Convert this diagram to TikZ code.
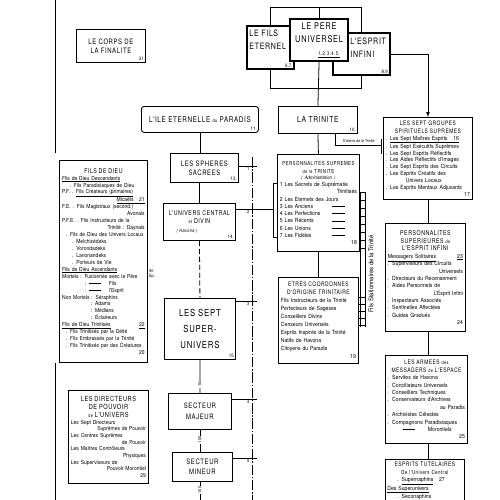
\documentclass[tikz,border=0pt]{standalone}
\usepackage{fontspec}
\setmainfont{TeX Gyre Heros}[FakeStretch=0.9]
\newfontfamily\lettre{TeX Gyre Heros}[FakeStretch=0.8,LetterSpace=8]
\newcommand\toright{\hspace*{\fill}}
\newcommand\jour[1]{\makebox[21mm][l]{#1}\rule[0.6ex]{5mm}{0.4pt}}
\newcommand\titre[2][7.5]{{\centering\lettre\fontsize{#1}{9}\selectfont #2\par}}
\newcommand\petit[1]{{\fontsize{5.5}{6}\selectfont #1}}
\begin{document}
\begin{tikzpicture}[
		x=0.4mm, y=-0.4mm,
		line width=0.9pt,
		frame/.style={draw, line width=1pt, fill=white, anchor=north west},
		box/.style={frame, align=center, inner sep=2pt, font=\lettre\fontsize{9}{11}\selectfont},
		heavy/.style={frame, line width=2.4pt},
		lst/.style={frame, align=left, inner sep=2.5pt, font=\fontsize{6.6}{8.4}\selectfont},
		num/.style={anchor=south east, inner sep=2pt, font=\fontsize{5.5}{6}\selectfont},
		tick/.style={inner sep=0.8pt, font=\fontsize{5}{6}\selectfont},
		rail/.style={line width=0.8pt, dash pattern=on 12pt off 2pt on 1.5pt off 2pt}
		]
		\path[use as bounding box, fill=white] (0,0) rectangle (500,500);
		\clip (0,0) rectangle (500,500);

		\node[box, minimum width=27.6mm, minimum height=13.2mm, font=\lettre\fontsize{8.5}{10.5}\selectfont] (corps) at (76,29) {LE CORPS DE\\LA FINALITE};
		\node[num] (corpsn) at (corps.south east) {31};

		\node[frame, line width=1.8pt, minimum width=18.8mm, minimum height=17.2mm] (fils) at (246,25) {};
		\node[anchor=north west, align=left, inner sep=0pt, font=\lettre\fontsize{10}{14}\selectfont] (filst) at (249,30) {LE FILS\\ETERNEL};
		\node[num] (filsn) at (fils.south east) {6.7.};
		\node[heavy, minimum width=22.8mm, minimum height=16.8mm] (esprit) at (332,32) {};
		\node[anchor=north west, align=left, inner sep=0pt, font=\lettre\fontsize{10}{14}\selectfont] (espritt) at (350,38) {L'ESPRIT\\INFINI};
		\node[num] (espritn) at (esprit.south east) {8.9.};
		\node[heavy, align=center, inner sep=2pt, minimum width=23.2mm, minimum height=16.8mm, font=\lettre\fontsize{10.5}{15}\selectfont] (pere) at (289,18) {LE PERE\\UNIVERSEL\\{\fontsize{6}{6}\selectfont\hspace*{8mm}\underline{1.2.3.4.5.}}};

		\node[box, rounded corners=3pt, minimum width=46.8mm, minimum height=10.4mm] (ile) at (141,106) {L'ILE ETERNELLE \petit{du} PARADIS};
		\node[num] (ilen) at (ile.south east) {11.};
		\node[box, minimum width=31.6mm, minimum height=10.8mm, font=\lettre\fontsize{9.5}{11}\selectfont] (trinite) at (278,106) {LA TRINITE};
		\node[num] (triniten) at (trinite.south east) {10.};
		\node[box, minimum width=27.2mm, minimum height=11.6mm, font=\lettre\fontsize{8.5}{10}\selectfont] (spheres) at (170,153) {LES SPHERES\\SACREES};
		\node[num] (spheresn) at (spheres.south east) {13.};
		\node[box, minimum width=28.8mm, minimum height=14.8mm, font=\lettre\fontsize{7.5}{10}\selectfont] (central) at (163,203) {L'UNIVERS CENTRAL\\\petit{et} DIVIN\\{\fontsize{5.5}{6}\selectfont\itshape ( Havona )\hspace*{10mm}}};
		\node[num] (centraln) at (central.south east) {14.};
		\node[box, minimum width=28.4mm, minimum height=24.4mm, font=\lettre\fontsize{11}{18}\selectfont] (superu) at (164,298) {LES SEPT\\SUPER-\\UNIVERS};
		\node[num] (superun) at (superu.south east) {15};
		\node[box, minimum width=25.2mm, minimum height=14.4mm, font=\lettre\fontsize{8.5}{13}\selectfont] (majeur) at (168,393) {SECTEUR\\MAJEUR};
		\node[box, minimum width=24mm, minimum height=11.6mm, font=\lettre\fontsize{8.5}{12}\selectfont] (mineur) at (172,452) {SECTEUR\\MINEUR};

		\node[lst, minimum width=35.2mm, minimum height=80.8mm, text width=33mm, font=\fontsize{6.3}{7.9}\selectfont] (filsdieu) at (59,160) {
			\titre{FILS DE DIEU}
			\underline{Fils de Dieu Descendants}\\
			\hspace*{3mm}. Fils Paradisiaques de Dieu\\
			P.F. . \underline{Fils Créateurs (primaires)}\\
			\toright\underline{Micaëls\quad 21}\\
			F.E. . Fils Magistraux (second.)\\
			\toright Avonals\hspace*{6mm}\\
			P.F.E. . Fils Instructeurs de la\\
			\toright Trinité : Daynals\hspace*{4mm}\\
			\hspace*{1.5mm}. Fils de Dieu des Univers Locaux\\
			\hspace*{4mm}. Melchizédeks\\
			\hspace*{4mm}. Vorondadeks\\
			\hspace*{4mm}. Lanonandeks\\
			\hspace*{4mm}. Porteurs de Vie\\
			\underline{Fils de Dieu Ascendants}\\
			Mortels : Fusionnés avec le Père\\
			\hspace*{9mm}: \rule[0.6ex]{5mm}{0.4pt}\hspace*{3mm}Fils\\
			\hspace*{9mm}: \rule[0.6ex]{5mm}{0.4pt}\hspace*{3mm}l'Esprit\\
			Non Mortels : Séraphins\\
			\hspace*{11.5mm}: Adams\\
			\hspace*{11.5mm}: Médians\\
			\hspace*{11.5mm}: Éclaireurs\\
			\underline{Fils de Dieu Trinitisés}\toright\underline{22}\\
			\hspace*{1.5mm}. Fils Trinitisés par la Déité\\
			\hspace*{1.5mm}. Fils Embrassés par la Trinité\\
			\hspace*{1.5mm}. Fils Trinitisés par des Créatures\\
			\toright 20};
		\node[tick, align=left, anchor=west] (asc) at (148,274) {40\\Ep.};

		\node[lst, minimum width=32mm, minimum height=37.2mm, text width=30mm, font=\fontsize{6.3}{7.6}\selectfont] (pouvoir) at (68,390) {
			\titre[8]{LES DIRECTEURS\\DE POUVOIR\\\petit{de} L'UNIVERS}
			Les Sept Directeurs\\
			\toright Suprêmes de Pouvoir\\
			Les Centres Suprêmes\\
			\toright de Pouvoir\hspace*{4mm}\\
			Les Maîtres Contrôleurs\\
			\toright Physiques\hspace*{4mm}\\
			Les Superviseurs de\\
			\toright Pouvoir Morontiel\\
			\toright 29};

		\node[lst, minimum width=35.6mm, minimum height=32.8mm, text width=33.6mm, font=\fontsize{6.5}{7.8}\selectfont] (groupes) at (383,117) {
			\titre[7]{LES SEPT GROUPES\\SPIRITUELS SUPREMES}
			. \underline{Les Sept Maîtres Esprits\quad 16}\\
			. Les Sept Exécutifs Suprêmes\\
			. Les Sept Esprits Réflectifs\\
			. Les Aides Réflectifs d'Images\\
			. Les Sept Esprits des Circuits\\
			. Les Esprits Créatifs des\\
			\hspace*{8mm}Univers Locaux\\
			. Les Esprits Mentaux Adjuvants\\
			\toright 17};

		\node[lst, minimum width=32.8mm, minimum height=38.8mm, text width=30.8mm, font=\fontsize{6.5}{8.2}\selectfont] (persup) at (277,154) {
			\titre[6.3]{PERSONNALITES SUPREMES\\\petit{de la} TRINITE}
			{\centering\itshape\fontsize{5.5}{7}\selectfont ( Administration )\par}
			1 Les Secrets de Suprématie\\
			\toright Trinitisés\hspace*{4mm}\\
			2 Les Eternels des Jours\\
			\jour{3 Les Anciens}\\
			\jour{4 Les Perfections}\\
			\jour{5 Les Récents}\\
			\jour{6 Les Unions}\\
			\jour{7 Les Fidèles}\\
			\toright 18};

		\node[lst, minimum width=32mm, minimum height=34.4mm, text width=30mm, font=\fontsize{6.5}{9.2}\selectfont] (etres) at (278,277) {
			\titre[7]{ETRES COORDONNES\\D'ORIGINE TRINITAIRE}
			Fils Instructeurs de la Trinité\\
			Perfecteurs de Sagesse\\
			Conseillers Divins\\
			Censeurs Universels\\
			Esprits Inspirés de la Trinité\\
			Natifs de Havona\\
			Citoyens du Paradis\\
			\toright 19};

		\node[lst, minimum width=32mm, minimum height=43.2mm, text width=30mm, font=\fontsize{6.5}{8.4}\selectfont] (supi) at (385,223) {
			\titre{PERSONNALITES\\SUPERIEURES \petit{de}\\L'ESPRIT INFINI}
			\underline{Messagers Solitaires}\toright\underline{23}\\
			. Superviseurs des Circuits\\
			\toright Universels\hspace*{6mm}\\
			. Directeurs du Recensement\\
			. Aides Personnels de\\
			\toright L'Esprit Infini\hspace*{5mm}\\
			. Inspecteurs Associés\\
			. Sentinelles Affectées\\
			. Guides Gradués\\
			\toright 24};

		\node[lst, minimum width=32.8mm, minimum height=35.2mm, text width=30.8mm, font=\fontsize{6.5}{8.4}\selectfont] (armees) at (385,355) {
			\titre[7]{LES ARMEES \petit{des}\\MESSAGERS \petit{de} L'ESPACE}
			. Servites de Havona\\
			. Conciliateurs Universels\\
			. Conseillers Techniques\\
			. Conservateurs d'Archives\\
			\toright au Paradis\hspace*{8mm}\\
			. Archivistes Célestes\\
			. Compagnons Paradisiaques\\
			\hspace*{6mm}\rule[0.6ex]{5mm}{0.4pt}\hspace*{5mm}Morontiels\\
			\toright 25};

		\node[frame, minimum width=31.6mm, minimum height=24mm] (tutel) at (385,459) {};
		\node[anchor=north west, align=left, text width=30mm, inner sep=0pt, font=\fontsize{6.5}{8}\selectfont] (tutelt) at (387,462) {
			\titre[7]{ESPRITS TUTELAIRES\\{\fontsize{6.3}{7}\selectfont De l'Univers Central}}
			\hspace*{4mm}. \underline{Supernaphins}\quad 27\\
			\underline{Des Superunivers}\\
			\hspace*{4mm}. \underline{Seconaphins}};

		\coordinate (ytop) at (0,7);
		\coordinate (ybar) at (0,88);
		\coordinate (ybot) at (0,500);
		\draw[double, double distance=1.4pt, line width=0.7pt] (ile.north) |- (fils.north |- ytop);
		\draw (fils.north |- ytop) -- (esprit.north |- ytop) -- (esprit.north);
		\draw (fils.north |- ytop) -- (fils.north);
		\draw (pere.north |- ytop) -- (pere.north);
		\draw (fils.south) |- (esprit.south |- ybar) -- (esprit.south);
		\draw (pere.south) -- (trinite.north);
		\draw[-latex] (esprit.east) -| (groupes.north);

		\coordinate (enfa) at (335,133);
		\coordinate (enfb) at (381,145);
		\coordinate (brka) at (381,139);
		\coordinate (brkb) at (381,154);
		\draw (enfa) |- (enfb);
		\draw (brka) -- (brkb);
		\node[tick, anchor=south, font=\fontsize{4.5}{5}\selectfont] (enft) at (359,144) {Enfants de la Trinité};

		\draw (ile.south) -- (ile.south |- spheres.north);
		\draw (spheres.south -| central.north) -- (central.north);
		\draw[dash pattern=on 6pt off 3pt] (central.south) -- (superu.north);
		\draw (superu.south) -- node[tick, rotate=90, fill=white, pos=0.75] (dix) {10} (majeur.north);
		\draw (majeur.south) -- node[tick, rotate=90, fill=white, pos=0.45] (centa) {100} (majeur.south |- mineur.north);
		\draw (majeur.south |- mineur.south) -- node[tick, rotate=90, fill=white, pos=0.45] (centb) {100} (majeur.south |- ybot);

		\coordinate (lv1) at (55,0);
		\coordinate (lv2) at (55,153);
		\coordinate (lv3) at (55,363);
		\coordinate (lv4) at (55,500);
		\draw (lv1) -- (lv2);
		\draw (lv3) -- (lv4);

		\coordinate (rv1) at (252,157);
		\coordinate (rv2) at (252,500);
		\draw[rail] (rv1) -- (rv2);
		\foreach \n/\x/\y/\e in {1/238/166/257, 2/235/209/273, 3/235/301/257, 4/231/399/257, 5/232/458/257} {
			\coordinate (ta\n) at (\x,\y);
			\coordinate (tb\n) at (\e,\y);
			\draw (ta\n) -- (tb\n);
			\node[tick, anchor=north east] (tl\n) at (250.5,\y+0.5) {\n};
		}
		\coordinate (bk1) at (277,183);
		\coordinate (bk2) at (273,183);
		\coordinate (bk3) at (273,237);
		\coordinate (bk4) at (277,237);
		\draw (bk1) -- (bk2) -- (bk3) -- (bk4);

		\draw (trinite.south) -- (persup.north);
		\draw (persup.south) -- (etres.north);
		\draw (groupes.south) -- (groupes.south |- supi.north);
		\draw (groupes.south |- supi.south) -- (groupes.south |- armees.north);
		\draw (groupes.south |- armees.south) -- (groupes.south |- tutel.north);

		\coordinate (ld1) at (360,192);
		\coordinate (ld2) at (360,327);
		\coordinate (ld3) at (365,192);
		\coordinate (ld4) at (365,327);
		\draw[line width=0.6pt] (ld1) -- (ld2);
		\draw[line width=0.6pt] (ld3) -- (ld4);
		\foreach \y [count=\i] in {192,200,...,248,297,304,311,318,325} {
			\coordinate (ra\i) at (359,\y);
			\coordinate (rb\i) at (365,\y);
			\draw[line width=0.6pt] (ra\i) -- (rb\i);
		}
		\node[tick, rotate=90, font=\fontsize{7.5}{8}\selectfont] (stat) at (371,274) {Fils Stationnaires de la Trinité};
	\end{tikzpicture}
\end{document}
